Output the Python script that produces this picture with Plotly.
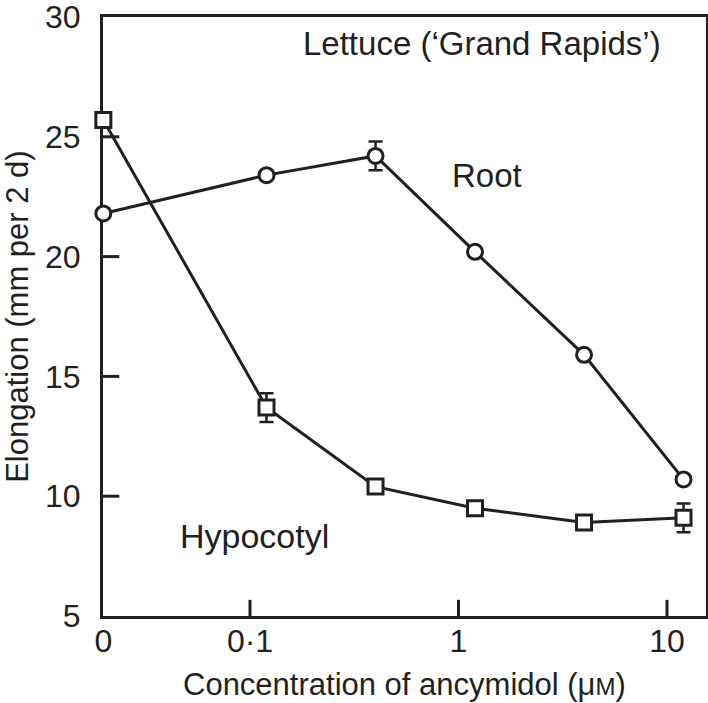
import plotly.graph_objects as go

# Data
concentration = [0, 0.12, 0.4, 1.2, 4, 12]          # µM ancymidol
root = [21.8, 23.4, 24.2, 20.2, 15.9, 10.7]          # mm per 2 d
root_err = [0, 0, 0.6, 0, 0, 0]
hypocotyl = [25.7, 13.7, 10.4, 9.5, 8.9, 9.1]
hypocotyl_err = [0, 0.6, 0, 0, 0, 0.6]
x_tick_vals = [0, 0.1, 1, 10]
x_tick_text = ["0", "0·1", "1", "10"]
y_tick_vals = [5, 10, 15, 20, 25, 30]

ZERO_AT = 0.0198  # position of the "0" (control) on the log axis
def xpos(c):
    return c if c > 0 else ZERO_AT

xs = [xpos(c) for c in concentration]
xtv = [xpos(c) for c in x_tick_vals]

FONT = "Liberation Sans, Arial, Helvetica, sans-serif"
BLACK = "#231f20"
FS_TICK = 32
FS_TEXT = 33

fig = go.Figure()
for name, ys, err, sym in [("Root", root, root_err, "circle"),
                           ("Hypocotyl", hypocotyl, hypocotyl_err, "square")]:
    fig.add_trace(go.Scatter(
        x=xs, y=ys, name=name, mode="lines+markers",
        line=dict(color=BLACK, width=3),
        marker=dict(symbol=sym, size=15, color="white",
                    line=dict(color=BLACK, width=3)),
        error_y=dict(type="data", array=err, visible=True,
                     color=BLACK, thickness=2.5, width=7),
        cliponaxis=False, showlegend=False,
    ))

fig.update_xaxes(
    type="log", range=[-1.705, 1.187], automargin=False,
    tickvals=xtv, ticktext=x_tick_text,
    ticks="", showline=True, linewidth=3, linecolor=BLACK, mirror=True,
    showgrid=False, zeroline=False, layer="below traces",
    tickfont=dict(family=FONT, size=FS_TICK, color=BLACK),
    ticklabelstandoff=-5, ticklabeloverflow="allow",
)
fig.update_yaxes(
    range=[5, 30], tickvals=y_tick_vals, automargin=False,
    ticks="", showline=True, linewidth=3, linecolor=BLACK, mirror=True,
    showgrid=False, zeroline=False, layer="below traces",
    tickfont=dict(family=FONT, size=FS_TICK, color=BLACK),
    ticklabelstandoff=13, ticklabeloverflow="allow",
)

# inner tick marks
shapes = []
for v in [0.1, 1, 10]:
    shapes.append(dict(type="line", xref="x", yref="paper", x0=v, x1=v,
                       y0=0, y1=0.027, line=dict(color=BLACK, width=3)))
for v in [10, 15, 20, 25]:
    shapes.append(dict(type="line", xref="paper", yref="y", x0=0, x1=0.027,
                       y0=v, y1=v, line=dict(color=BLACK, width=3)))

def txt(s, x, y, size=FS_TEXT, **kw):
    d = dict(text=s, x=x, y=y, xref="paper", yref="paper",
             xanchor="center", yanchor="middle", showarrow=False,
             font=dict(family=FONT, size=size, color=BLACK))
    d.update(kw)
    return d

annotations = [
    txt("Lettuce (‘Grand Rapids’)", 0.629, 0.955),
    txt("Root", 0.637, 0.735),
    txt("Hypocotyl", 0.252, 0.133, size=34),
    txt("Concentration of ancymidol (μ<span style='font-size:24px'>M</span>)", 0.5, -0.115, size=31),
    txt("Elongation (mm per 2 d)", -0.142, 0.5, size=31, textangle=-90),
]

fig.update_layout(
    width=708, height=703,
    margin=dict(l=103, r=2, t=17, b=87),
    paper_bgcolor="white", plot_bgcolor="white",
    shapes=shapes, annotations=annotations,
)
fig.write_html("out.html", config={"displayModeBar": False},
               post_script="document.body.style.margin='0';document.body.style.overflow='hidden';")
